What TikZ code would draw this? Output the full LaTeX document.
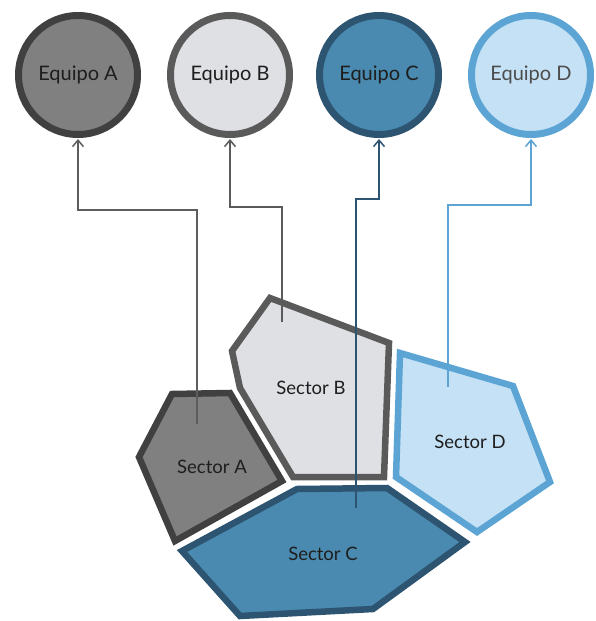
\documentclass[tikz,border=0pt]{standalone}
\usepackage{fontspec}
\setmainfont{Lato}
\usetikzlibrary{arrows.meta}
\definecolor{aFill}{HTML}{808080}
\definecolor{aLine}{HTML}{404040}
\definecolor{bFill}{HTML}{DFE0E4}
\definecolor{bLine}{HTML}{5A5A5A}
\definecolor{cFill}{HTML}{4A8AB0}
\definecolor{cLine}{HTML}{2D5470}
\definecolor{dFill}{HTML}{C5E1F5}
\definecolor{dLine}{HTML}{5BA4D4}
\definecolor{txt}{HTML}{1E1E1E}
\tikzset{
  equipo/.style={circle, minimum size=119pt, inner sep=0pt, line width=7pt, font=\fontsize{20}{22}\selectfont, text=txt},
  sector/.style={line width=6.5pt},
  seclabel/.style={font=\fontsize{18.5}{20}\selectfont, text=txt, inner sep=0pt},
  conn/.style={line width=1.6pt, -{Straight Barb[length=6.5pt,width=11pt,line width=1.5pt]}, shorten >=1pt}
}
\begin{document}
\begin{tikzpicture}[x=1pt, y=-1pt]
\useasboundingbox (0,0) rectangle (595,621);
% circles
\node[equipo, draw=aLine, fill=aFill] (eqA) at (78,75) {Equipo A};
\node[equipo, draw=bLine, fill=bFill] (eqB) at (230,75) {Equipo B};
\node[equipo, draw=cLine, fill=cFill] (eqC) at (379,75) {Equipo C};
\node[equipo, draw=dLine, fill=dFill, text=black!70] (eqD) at (531,75) {Equipo D};
% sectors
\draw[sector, draw=aLine, fill=aFill] (172,394) -- (230,393) -- (282,481) -- (175,541) -- (139,457) -- cycle;
\draw[sector, draw=bLine, fill=bFill] (270,298) -- (389,343) -- (384,477) -- (293,477) -- (240,388) -- (232,351) -- cycle;
\draw[sector, draw=dLine, fill=dFill] (400,353) -- (513,386) -- (550,482) -- (477,532) -- (396,477) -- cycle;
\draw[sector, draw=cLine, fill=cFill] (297,489) -- (387,488) -- (465,542) -- (373,609) -- (240,616) -- (182,551) -- cycle;
\node[seclabel] (lA) at (212,467) {Sector A};
\node[seclabel] (lB) at (311,388) {Sector B};
\node[seclabel] (lC) at (323,554) {Sector C};
\node[seclabel] (lD) at (470,442) {Sector D};
% connector start points
\coordinate (sA) at (197,424);
\coordinate (sB) at (282,322);
\coordinate (sC) at (356,508);
\coordinate (sD) at (448,387);
\draw[conn, draw=aLine!85] (sA) -- (sA |- 0,210) -| (eqA.south);
\draw[conn, draw=bLine] (sB) -- (sB |- 0,207) -| (eqB.south);
\draw[conn, draw=cLine] (sC) -- (sC |- 0,199) -| (eqC.south);
\draw[conn, draw=dLine] (sD) -- (sD |- 0,205) -| (eqD.south);
\end{tikzpicture}
\end{document}
